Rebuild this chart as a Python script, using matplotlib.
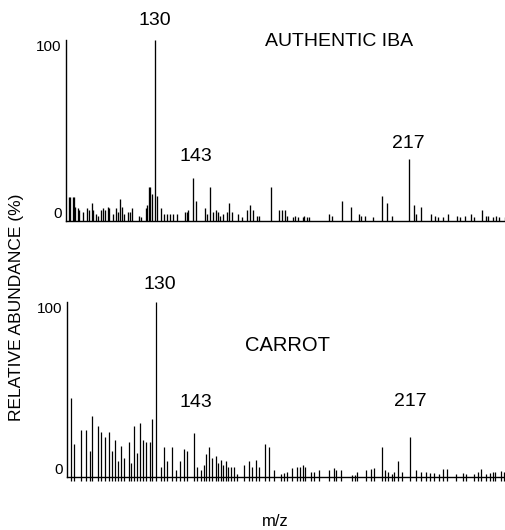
import matplotlib
matplotlib.use("Agg")
import matplotlib.pyplot as plt

plt.rcParams['font.family'] = ['Liberation Sans', 'DejaVu Sans']

# ---- data: authentic IBA (m/z, relative abundance %) ----
iba_mz = [100.6, 101.0, 102.0, 102.4, 102.7, 103.7, 104.1, 105.4, 106.8, 107.5,
          108.5, 108.8, 109.9, 110.5, 111.6, 112.3, 112.9, 114.0, 114.3, 115.7,
          116.7, 117.4, 118.1, 118.7, 119.4, 120.8, 121.5, 122.2, 124.5, 125.2,
          126.9, 127.3, 128.0, 128.3, 129.0, 130.0, 130.7, 132.0, 133.1, 134.1,
          135.1, 136.1, 137.5, 140.2, 140.9, 141.3, 143.0, 144.0, 147.1, 147.7,
          148.8, 149.8, 150.8, 151.5, 152.2, 153.2, 154.6, 155.3, 156.3, 158.3,
          159.7, 161.4, 162.4, 163.4, 164.8, 165.5, 169.6, 172.3, 173.3, 174.4,
          175.1, 177.1, 177.8, 178.8, 180.5, 180.9, 181.9, 182.6, 189.4, 190.4,
          193.8, 196.9, 199.6, 200.3, 201.7, 204.7, 207.5, 209.2, 211.2, 217.0,
          218.4, 219.1, 221.1, 224.2, 225.6, 226.6, 228.6, 230.3, 233.1, 234.4,
          236.1, 238.2, 239.2, 241.9, 243.0, 244.0, 245.4, 246.7, 247.7, 249.5]
iba_ab = [13, 13, 13, 13, 8, 7, 6, 5, 7, 6,
          10, 6, 4, 3, 6, 7, 6, 8, 7, 4,
          7, 5, 12, 8, 4, 5, 5, 7, 3, 2,
          7, 9, 19, 19, 15, 100, 14, 7, 4, 4,
          4, 4, 4, 5, 5, 6, 24, 11, 7, 4,
          19, 5, 6, 5, 3, 4, 5, 10, 5, 4,
          2, 6, 9, 6, 3, 3, 19, 6, 6, 6,
          3, 2, 3, 2, 2, 3, 2, 2, 4, 3,
          11, 8, 4, 3, 3, 2, 14, 10, 3, 34,
          9, 4, 8, 4, 3, 2, 2, 4, 3, 2,
          3, 4, 2, 6, 3, 3, 2, 3, 2, 2]

# ---- data: carrot extract ----
car_mz = [100.9, 101.9, 104.3, 106.0, 107.4, 108.1, 110.1, 111.2, 112.5, 113.9,
          114.9, 116.0, 117.0, 118.0, 119.0, 120.8, 121.4, 122.5, 123.5, 124.5,
          125.5, 126.6, 127.9, 128.6, 130.0, 131.7, 132.7, 133.8, 135.5, 136.8,
          138.2, 139.6, 140.6, 143.0, 144.0, 145.4, 146.4, 147.1, 148.2, 149.2,
          150.5, 151.2, 152.3, 152.9, 154.0, 154.7, 155.7, 156.7, 157.7, 160.1,
          161.8, 162.9, 164.2, 165.3, 167.3, 168.7, 170.4, 172.8, 173.8, 174.9,
          176.6, 178.3, 179.3, 180.3, 181.0, 183.1, 184.1, 185.8, 189.2, 191.0,
          191.6, 193.4, 197.1, 198.2, 198.8, 201.9, 203.6, 204.9, 207.4, 208.4,
          209.5, 210.8, 211.8, 212.9, 214.2, 217.0, 219.0, 220.8, 222.5, 223.8,
          225.2, 226.9, 228.3, 229.7, 232.7, 235.1, 236.2, 238.9, 240.3, 241.6,
          243.0, 244.4, 245.4, 246.4, 248.2, 249.2]
car_ab = [45, 19, 27, 27, 15, 35, 29, 26, 23, 26,
          15, 21, 9, 18, 11, 20, 8, 29, 14, 31,
          21, 20, 20, 33, 100, 6, 17, 9, 17, 4,
          9, 16, 15, 25, 6, 4, 7, 13, 17, 11,
          12, 8, 10, 7, 9, 6, 5.5, 6, 2, 7,
          9, 6, 10, 5.5, 19, 17, 4, 2, 2.5, 3,
          5, 6, 6, 7, 6, 3, 3, 4, 4, 5,
          4, 4, 1.2, 1.2, 3, 4, 4.4, 5, 17, 4,
          3, 2, 3, 9, 3, 23, 4, 3, 3, 2.5,
          2.5, 1.7, 4.4, 4.4, 2, 2.5, 2, 2, 3, 4.4,
          2, 2.5, 3, 3, 3.4, 3]

peak_labels = ["130", "143", "217"]
y_tick_labels = ["0", "100"]

XMIN, XMAX = 99.6, 250.0

fig = plt.figure(figsize=(5.06, 5.30), dpi=100)
ax1 = fig.add_axes([66/506, (530-221)/530, 1 - 66/506, (221-40)/530])
ax2 = fig.add_axes([67/506, (530-477)/530, 1 - 67/506, (477-302)/530])

for ax in (ax1, ax2):
    ax.set_xlim(XMIN, XMAX)
    ax.set_ylim(0, 100)
    for s in ("top", "right"):
        ax.spines[s].set_visible(False)
    ax.spines["left"].set_linewidth(1.0)
    ax.spines["bottom"].set_linewidth(1.0)
    ax.set_xticks([])
    ax.set_yticks([0, 100])
    ax.set_yticklabels(y_tick_labels, fontsize=11)
    ax.tick_params(axis="y", length=0, pad=3)
    labs = ax.get_yticklabels()
    labs[0].set_va("bottom")
    labs[1].set_va("top")

ax1.vlines(iba_mz, 0, iba_ab, colors="black", linewidth=0.95)
ax2.vlines(car_mz, -2.0, car_ab, colors="black", linewidth=0.9, clip_on=False)

tk = dict(fontsize=14, ha="center", va="center", clip_on=False)
# top panel annotations
ax1.text(130.0, 111, peak_labels[0], **tk)
ax1.text(144.0, 35.4, peak_labels[1], **tk)
ax1.text(216.7, 43, peak_labels[2], **tk)
ax1.text(193.1, 99, "AUTHENTIC IBA", fontsize=14, ha="center", va="center")
# bottom panel annotations
ax2.text(131.4, 110, peak_labels[0], **tk)
ax2.text(143.7, 42.3, peak_labels[1], **tk)
ax2.text(217.3, 42.9, peak_labels[2], **tk)
ax2.text(175.2, 75.4, "CARROT", fontsize=14.5, ha="center", va="center")

fig.text(17/506, 1 - 307/530, "RELATIVE ABUNDANCE (%)", rotation=90,
         fontsize=12.5, ha="center", va="center")
fig.text(275/506, 1 - 521/530, "m/z", fontsize=12, ha="center", va="center")

fig.savefig("out.png", dpi=100)
